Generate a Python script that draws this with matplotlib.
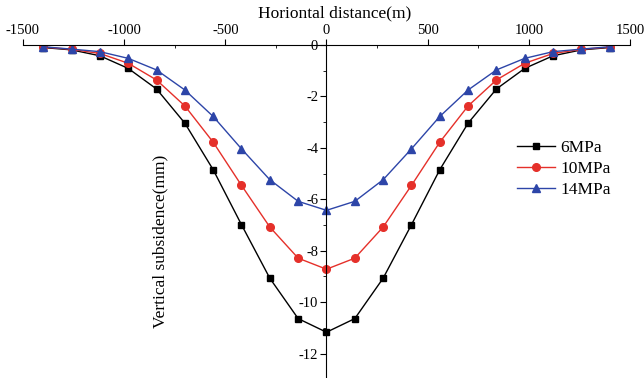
import numpy as np
import matplotlib
matplotlib.use("Agg")
import matplotlib.pyplot as plt
from matplotlib.ticker import MultipleLocator

plt.rcParams['font.family'] = ['Liberation Serif', 'DejaVu Serif']
plt.rcParams['axes.unicode_minus'] = False

# horizontal distance (m), symmetric about 0
dist = [-1400, -1260, -1120, -980, -840, -700, -560, -420, -280, -140, 0,
        140, 280, 420, 560, 700, 840, 980, 1120, 1260, 1400]

half_6 = [-0.10, -0.19, -0.42, -0.91, -1.71, -3.04, -4.85, -6.99, -9.07, -10.64, -11.17]
half_10 = [-0.08, -0.17, -0.33, -0.71, -1.36, -2.37, -3.78, -5.46, -7.08, -8.29, -8.72]
half_14 = [-0.07, -0.16, -0.26, -0.52, -0.97, -1.75, -2.78, -4.04, -5.24, -6.08, -6.43]

s6 = half_6 + half_6[-2::-1]
s10 = half_10 + half_10[-2::-1]
s14 = half_14 + half_14[-2::-1]

fig = plt.figure(figsize=(6.44, 3.78), dpi=100)
ax = fig.add_axes([0.0357, 0.0, 0.9425, 0.881])

ax.plot(dist, s6, color='black', lw=1.0, marker='s', ms=5, label='6MPa')
ax.plot(dist, s10, color='#e5302a', lw=1.0, marker='o', ms=5.5, label='10MPa')
ax.plot(dist, s14, color='#2d45a8', lw=1.0, marker='^', ms=6, label='14MPa')

ax.set_xlim(-1500, 1500)
ax.set_ylim(-12.95, 0)

ax.spines['right'].set_visible(False)
ax.spines['bottom'].set_visible(False)
ax.spines['left'].set_position(('data', 0))

ax.xaxis.set_major_locator(MultipleLocator(500))
ax.xaxis.set_minor_locator(MultipleLocator(250))
ax.yaxis.set_major_locator(MultipleLocator(2))
ax.yaxis.set_minor_locator(MultipleLocator(1))

ax.xaxis.tick_top()
ax.tick_params(axis='x', which='major', direction='out', length=4.5, labelsize=10.5, pad=1.5)
ax.tick_params(axis='x', which='minor', direction='in', length=2.5)
ax.tick_params(axis='y', which='major', direction='out', length=4.5, labelsize=10.5, pad=1.5)
ax.tick_params(axis='y', which='minor', direction='out', length=2.5)

ax.xaxis.set_label_position('top')
ax.set_xlabel('Horiontal distance(m)', fontsize=12.5)
ax.xaxis.set_label_coords(0.514, 1.082)
ax.set_ylabel('Vertical subsidence(mm)', fontsize=12.5)
ax.yaxis.set_label_coords(0.24, 0.41)

ax.legend(loc='upper left', bbox_to_anchor=(0.8, 0.74), frameon=False,
          fontsize=12.5, handlelength=2.2, handletextpad=0.3,
          labelspacing=0.28, borderpad=0)

fig.savefig('out.png', dpi=100)
